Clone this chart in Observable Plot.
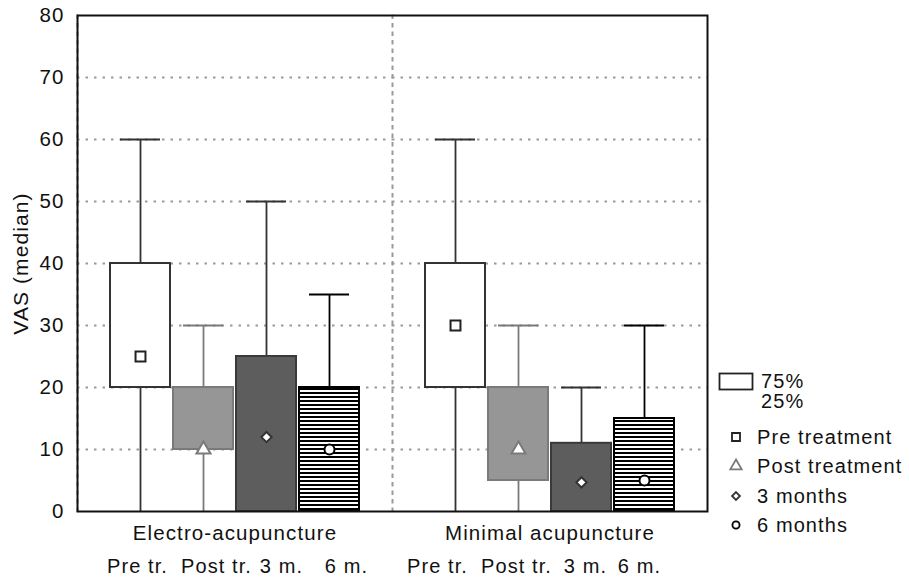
<!DOCTYPE html>
<html><head><meta charset="utf-8">
<script src="https://cdn.jsdelivr.net/npm/d3@7"></script>
<script src="https://cdn.jsdelivr.net/npm/@observablehq/plot@0.6"></script>
<style>body{margin:0;background:#fff;}</style>
</head><body><div id="chart"></div>
<script>
// ---- data ----
const groups = ["Electro-acupuncture", "Minimal acupuncture"];
const periods = ["Pre tr.", "Post tr.", "3 m.", "6 m."];
const legendLabels = ["Pre treatment", "Post treatment", "3 months", "6 months"];
const boxLegend = ["75%", "25%"];
const medianEA = [25, 10, 12, 10];
const q1EA = [20, 10, 0, 0];
const q3EA = [40, 20, 25, 20];
const minEA = [0, 0, 0, 0];
const maxEA = [60, 30, 50, 35];
const medianMA = [30, 10, 4.7, 5];
const q1MA = [20, 5, 0, 0];
const q3MA = [40, 20, 11, 15];
const minMA = [0, 0, 0, 0];
const maxMA = [60, 30, 20, 30];
const yTicks = [0, 10, 20, 30, 40, 50, 60, 70, 80];
const gridValues = [10, 20, 30, 40, 50, 60, 70];
const yLabel = "VAS (median)";

const series = [[medianEA, q1EA, q3EA, minEA, maxEA], [medianMA, q1MA, q3MA, minMA, maxMA]];
const rows = [];
series.forEach((s, gi) => periods.forEach((p, i) => rows.push({
  group: groups[gi], period: p, median: s[0][i], q1: s[1][i], q3: s[2][i], lo: s[3][i], hi: s[4][i]
})));

// ---- styles ----
const st = {
  "Pre tr.":  {fill: "#ffffff", stroke: "#333", line: "#333", symbol: "square", dot: "#222", r: 5.6},
  "Post tr.": {fill: "#969696", stroke: "#7a7a7a", line: "#7a7a7a", symbol: "triangle", dot: "#7a7a7a", r: 5.2},
  "3 m.":     {fill: "#5d5d5d", stroke: "#3a3a3a", line: "#333", symbol: "diamond2", dot: "#333", r: 4.6},
  "6 m.":     {fill: "url(#stripes)", stroke: "#000", line: "#000", symbol: "circle", dot: "#000", r: 5}
};
// horizontal nudges of the period labels (the original sets them as one text line)
const labelNudge = {"Electro-acupuncture": [-3, 13, 15, 17], "Minimal acupuncture": [-18, -2, 4, -5]};
const dotted = {stroke: "#9a9a9a", strokeWidth: 2, strokeDasharray: "2.5,6"};

const periodMarks = periods.flatMap(p => {
  const s = st[p];
  const filter = d => d.period === p;
  return [
    Plot.ruleX(rows, {filter, x: "period", y1: "lo", y2: "hi", stroke: s.line, strokeWidth: 1.8}),
    Plot.tickY(rows, {filter, x: "period", y: "hi", stroke: s.line, strokeWidth: 2, insetLeft: 10, insetRight: 10}),
    Plot.barY(rows, {filter, x: "period", y1: "q1", y2: "q3", fill: s.fill, stroke: s.stroke, strokeWidth: 2}),
    Plot.dot(rows, {filter, x: "period", y: "median", symbol: s.symbol, r: s.r, fill: "#fff", stroke: s.dot, strokeWidth: 2})
  ];
});
const labelMarks = groups.flatMap(g => periods.map((p, i) =>
  Plot.text(rows, {filter: d => d.group === g && d.period === p, x: "period", text: "period",
    frameAnchor: "bottom", dy: 61, dx: labelNudge[g][i], fill: "#111"})
));

const svg = Plot.plot({
  width: 909, height: 581,
  marginLeft: 76, marginRight: 202, marginTop: 15, marginBottom: 70,
  style: "font-family: 'Liberation Sans', Arial, sans-serif; font-size: 20px; letter-spacing: 1.1px; color: #111; background: #fff;",
  facet: {data: rows, x: "group"},
  fx: {domain: groups, padding: 0},
  x: {domain: periods, paddingInner: 0.05, paddingOuter: 0.525, axis: null},
  y: {domain: [0, 80]},
  marks: [
    Plot.ruleY(gridValues, dotted),
    Plot.frame({anchor: "left", ...dotted}),
    ...periodMarks,
    Plot.frame({facet: "super", stroke: "#111", strokeWidth: 2}),
    Plot.axisY({ticks: yTicks, tickSize: 0, tickPadding: 13, label: null, fontSize: 20.5}),
    Plot.axisFx({anchor: "bottom", tickSize: 0, tickPadding: 14, label: null, fontSize: 20.5}),
    ...labelMarks,
    Plot.text([yLabel], {frameAnchor: "left", dx: -56, rotate: -90, textAnchor: "middle", facet: "super", fill: "#111", fontSize: 21})
  ]
});

// stripe pattern for the 6-month boxes
const root = d3.select(svg);
const defs = root.insert("defs", ":first-child");
const pat = defs.append("pattern").attr("id", "stripes").attr("patternUnits", "userSpaceOnUse")
  .attr("width", 8).attr("height", 4);
pat.append("rect").attr("width", 8).attr("height", 4).attr("fill", "#fff");
pat.append("rect").attr("width", 8).attr("height", 2).attr("fill", "#000");

// legend (outside plot area)
const lg = root.append("g").attr("fill", "#111").attr("text-anchor", "start");
lg.append("rect").attr("x", 719.5).attr("y", 373.5).attr("width", 33).attr("height", 16)
  .attr("fill", "#fff").attr("stroke", "#222").attr("stroke-width", 1.8);
lg.append("text").attr("x", 761).attr("y", 381).attr("dy", "0.35em").text(boxLegend[0]);
lg.append("text").attr("x", 761).attr("y", 401).attr("dy", "0.35em").text(boxLegend[1]);
const symMap = {square: d3.symbolSquare, triangle: d3.symbolTriangle, diamond2: d3.symbolDiamond2, circle: d3.symbolCircle};
const legendY = [437, 466, 496, 525];
periods.forEach((p, i) => {
  const s = st[p];
  const size = p === "Pre tr." ? 64 : p === "Post tr." ? 56 : 40;
  lg.append("path").attr("d", d3.symbol(symMap[s.symbol], size)())
    .attr("transform", `translate(736,${legendY[i]})`)
    .attr("fill", "#fff").attr("stroke", s.dot).attr("stroke-width", 1.8);
  lg.append("text").attr("x", 757).attr("y", legendY[i]).attr("dy", "0.35em").text(legendLabels[i]);
});

document.getElementById("chart").appendChild(svg);
</script>
</body></html>
